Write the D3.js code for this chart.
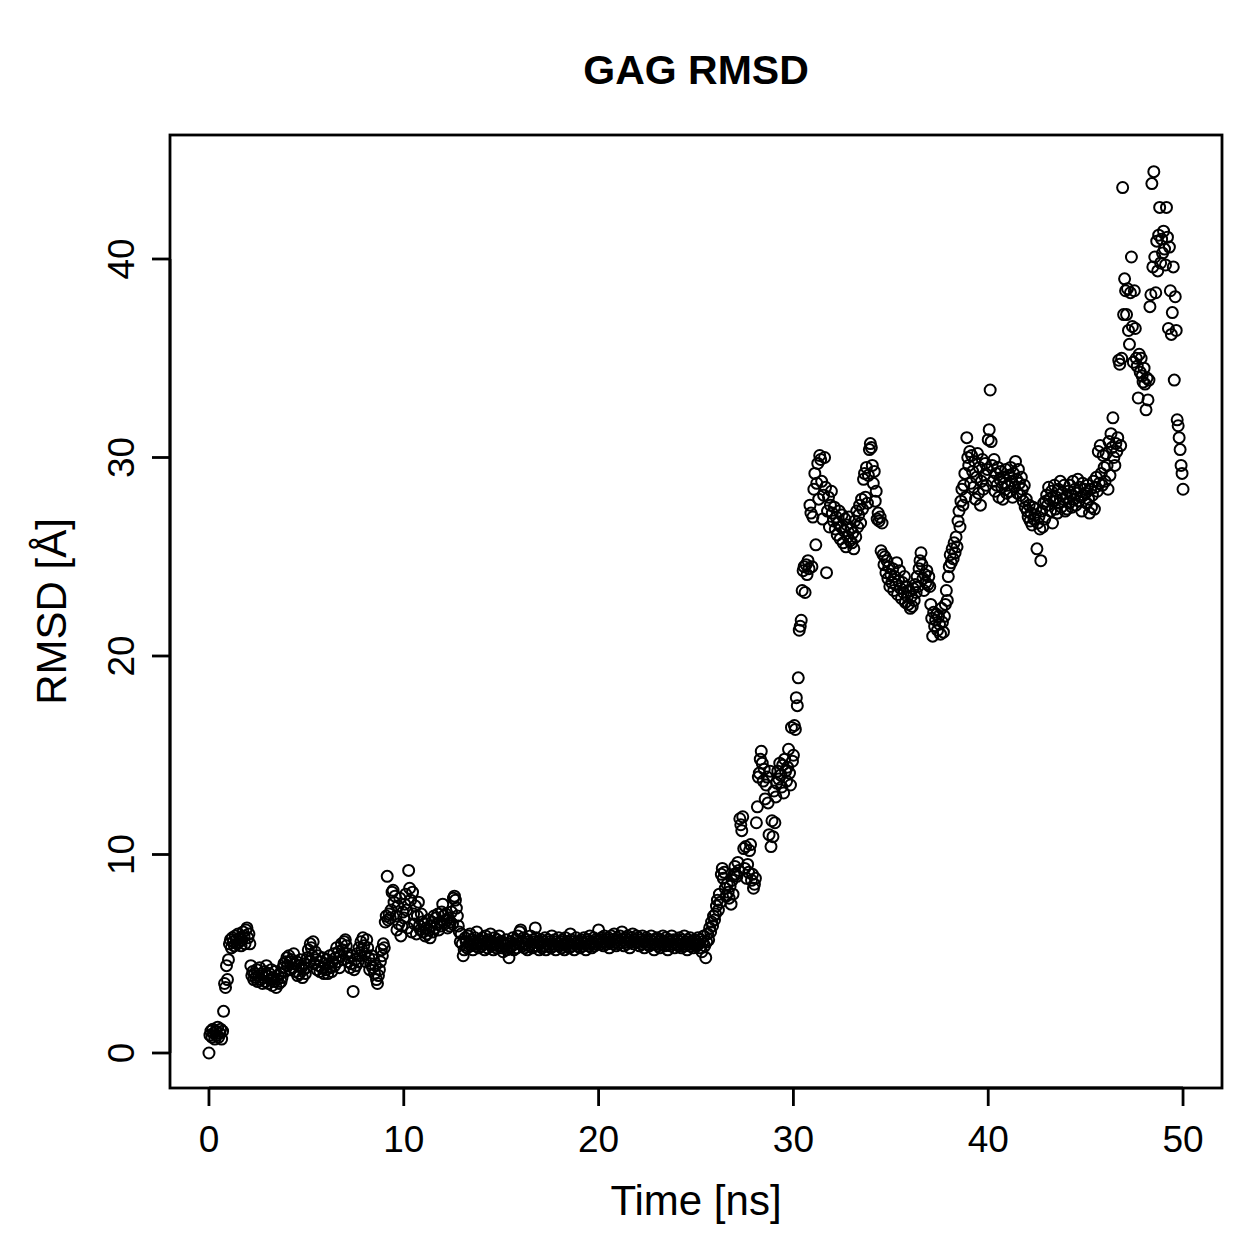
<!DOCTYPE html>
<html>
<head>
<meta charset="utf-8">
<script src="https://cdn.jsdelivr.net/npm/d3@7"></script>
<style>
  html, body { margin: 0; padding: 0; background: #fff; }
  svg { display: block; font-family: "Liberation Sans", Arial, Helvetica, sans-serif; }
  .axis-line, .tick-line, .frame { stroke: #000; stroke-width: 2.8; fill: none; }
  .pt { fill: none; stroke: #000; stroke-width: 2; }
</style>
</head>
<body>
<svg width="1259" height="1259"></svg>
<script>
// RMSD samples every 0.05 ns, one array per ns of simulation time
const STEP = 0.05;
const rmsd00 = [0.0,0.9,1.1,0.8,1.2,1.0,0.7,1.1,0.9,1.3,0.8,1.0,1.2,0.7,1.1,2.1,3.5,3.3,4.4,3.7];
const rmsd01 = [4.7,5.5,5.7,5.3,5.8,5.6,5.4,5.9,5.7,5.5,6.0,5.6,5.8,5.4,5.7,6.1,5.9,5.5,6.2,6.3];
const rmsd02 = [5.8,6.0,5.5,4.4,3.9,4.1,3.7,4.0,3.8,4.2,3.6,3.9,4.3,3.7,4.0,3.5,3.8,4.1,3.6,4.4];
const rmsd03 = [3.9,3.5,4.0,3.7,4.2,3.4,3.8,3.6,4.1,3.3,3.7,3.9,3.5,4.0,3.6,3.8,4.3,4.5,4.1,4.6];
const rmsd04 = [4.8,4.4,4.9,4.6,4.2,4.7,4.3,5.0,4.5,4.1,4.6,3.9,4.4,4.0,4.7,4.3,3.8,4.2,4.5,4.0];
const rmsd05 = [4.3,4.8,5.2,4.6,5.5,5.3,4.9,5.6,4.5,5.1,4.7,4.2,4.9,4.4,4.1,4.6,4.3,4.8,4.0,4.5];
const rmsd06 = [4.2,4.7,4.0,4.5,4.9,4.3,4.1,4.6,5.0,4.4,4.8,5.3,4.6,5.1,4.3,4.9,5.5,5.2,4.7,5.6];
const rmsd07 = [5.7,5.4,5.0,4.6,4.8,4.3,4.5,4.9,3.1,4.2,4.7,4.4,5.0,4.6,5.3,4.9,5.6,5.2,5.8,5.4];
const rmsd08 = [5.0,4.6,5.7,5.3,4.8,4.2,4.5,4.9,4.3,4.7,4.0,4.4,3.7,3.5,3.9,4.2,4.6,5.2,4.9,5.5];
const rmsd09 = [5.3,6.6,6.9,8.9,6.7,7.0,6.8,7.2,8.1,8.2,7.6,7.9,6.9,6.2,7.4,6.5,7.8,5.9,6.4,7.1];
const rmsd10 = [6.8,7.5,8.0,7.2,6.3,9.2,8.3,7.7,6.1,8.1,7.0,6.5,7.4,6.0,6.9,7.6,6.4,6.2,7.0,6.6];
const rmsd11 = [6.1,6.5,5.9,6.3,6.0,6.7,6.2,5.8,6.4,6.6,6.1,6.9,6.3,6.8,6.5,7.0,6.2,6.6,6.4,7.1];
const rmsd12 = [7.5,6.9,6.5,7.0,6.7,6.3,6.8,6.4,6.6,7.1,6.5,7.8,7.9,7.7,7.3,6.9,6.4,6.1,5.6,6.0];
const rmsd13 = [5.5,4.9,5.2,5.8,5.6,5.3,5.9,5.5,6.0,5.4,5.7,5.2,5.6,5.8,5.4,6.1,5.5,5.3,5.7,5.6];
const rmsd14 = [5.4,5.8,5.5,5.2,5.9,5.6,5.3,5.7,5.5,6.0,5.4,5.6,5.2,5.8,5.5,5.3,5.7,5.4,5.9,5.6];
const rmsd15 = [5.3,5.6,5.1,5.5,5.4,5.7,5.2,5.5,4.8,5.3,5.6,5.4,5.8,5.2,5.5,5.7,5.3,5.9,5.5,6.1];
const rmsd16 = [6.2,5.6,5.4,5.8,5.3,5.5,5.7,5.2,5.6,5.4,5.9,5.5,5.3,5.7,5.6,6.3,5.8,5.4,5.6,5.2];
const rmsd17 = [5.5,5.7,5.3,5.6,5.4,5.8,5.2,5.5,5.7,5.4,5.6,5.3,5.9,5.5,5.4,5.7,5.2,5.6,5.5,5.8];
const rmsd18 = [5.4,5.6,5.3,5.7,5.5,5.2,5.8,5.4,5.6,5.5,5.3,6.0,5.7,5.4,5.6,5.2,5.5,5.8,5.4,5.6];
const rmsd19 = [5.5,5.3,5.7,5.6,5.4,5.8,5.5,5.2,5.6,5.7,5.4,5.9,5.5,5.3,5.6,5.8,5.4,5.7,5.5,5.6];
const rmsd20 = [6.2,5.7,5.5,5.8,5.6,5.4,5.9,5.6,5.7,5.5,5.8,5.3,5.6,5.9,5.7,5.5,6.0,5.6,5.4,5.8];
const rmsd21 = [5.7,5.5,5.9,5.6,6.1,5.7,5.4,5.8,5.6,5.5,5.9,5.7,5.3,5.6,5.8,6.0,5.5,5.7,5.6,5.9];
const rmsd22 = [5.6,5.8,5.4,5.7,5.5,5.9,5.6,5.3,5.7,5.8,5.5,5.6,5.4,5.7,5.9,5.5,5.6,5.2,5.7,5.5];
const rmsd23 = [5.8,5.4,5.6,5.3,5.7,5.5,5.9,5.6,5.4,5.8,5.5,5.2,5.7,5.6,5.4,5.9,5.5,5.7,5.3,5.6];
const rmsd24 = [5.5,5.7,5.4,5.8,5.6,5.3,5.7,5.5,5.9,5.4,5.6,5.2,5.7,5.5,5.8,5.4,5.6,5.3,5.5,5.7];
const rmsd25 = [5.6,5.4,5.8,5.5,5.3,5.7,5.1,5.6,5.9,5.4,4.8,5.6,6.0,5.7,6.3,6.1,6.6,6.4,6.9,6.7];
const rmsd26 = [7.0,7.4,7.7,7.2,8.0,7.6,9.0,9.3,8.8,9.1,8.3,7.9,8.5,8.1,7.8,8.4,7.5,8.7,8.0,9.0];
const rmsd27 = [9.4,9.0,8.9,9.6,9.2,11.8,11.5,11.2,11.9,10.3,9.3,10.4,8.8,9.5,9.1,10.2,10.5,8.7,9.0,8.3];
const rmsd28 = [8.5,8.8,11.6,12.4,13.9,14.1,14.8,15.2,14.6,13.7,14.3,12.8,13.5,13.9,12.6,11.0,14.2,10.4,11.7,10.9];
const rmsd29 = [13.2,11.6,12.9,13.6,14.2,13.8,14.6,14.0,13.4,14.5,13.1,14.8,14.2,13.7,14.4,15.3,14.1,13.5,16.4,14.7];
const rmsd30 = [15.0,16.5,16.3,17.9,17.5,18.9,21.3,21.5,21.8,23.3,24.3,24.5,23.2,24.6,24.1,24.8,24.4,27.6,27.2,24.5];
const rmsd31 = [27.0,28.4,29.2,25.6,28.7,29.7,27.9,30.1,29.9,28.8,26.9,28.1,30.0,28.5,24.2,27.3,28.0,26.5,27.6,28.3];
const rmsd32 = [27.2,26.8,27.5,26.4,27.0,26.1,26.7,27.3,25.9,26.5,27.1,25.7,26.3,26.9,25.5,26.6,26.0,27.0,25.8,26.4];
const rmsd33 = [25.7,26.2,25.4,26.8,26.0,27.3,26.5,27.1,27.6,26.7,27.9,27.4,28.9,29.2,28.0,29.5,27.7,29.1,30.4,30.7];
const rmsd34 = [30.5,29.6,28.7,29.3,27.8,28.3,26.9,27.2,26.8,27.0,25.3,26.7,25.1,24.6,25.0,24.2,24.8,23.9,24.5,23.5];
const rmsd35 = [24.1,23.7,24.4,23.3,24.0,23.6,24.7,23.1,23.8,24.3,23.4,22.9,23.7,23.2,24.0,22.7,23.5,23.0,22.6,23.3];
const rmsd36 = [22.4,23.0,22.5,23.4,22.8,23.6,23.2,24.0,23.5,24.4,24.8,25.2,24.6,23.9,23.3,24.1,23.7,24.3,23.6,24.0];
const rmsd37 = [23.5,22.6,21.9,21.0,22.2,21.5,21.8,22.1,21.3,22.0,21.6,21.1,22.4,21.7,21.2,22.0,22.6,23.3,22.8,24.0];
const rmsd38 = [24.5,25.1,24.7,25.4,24.9,25.7,25.2,26.0,25.5,26.8,27.3,26.5,27.8,28.4,27.6,28.6,29.2,28.0,31.0,30.0];
const rmsd39 = [29.6,30.3,28.7,30.1,29.3,28.5,29.8,27.9,29.0,30.2,28.2,29.5,27.6,28.8,29.9,28.4,29.1,29.7,28.6,29.4];
const rmsd40 = [30.9,31.4,33.4,30.8,29.6,28.8,29.9,28.3,29.2,28.6,29.5,28.0,28.9,29.3,28.5,27.9,29.0,28.7,29.4,28.2];
const rmsd41 = [28.6,29.1,28.3,29.5,28.8,28.0,29.2,28.5,29.8,28.9,28.2,29.4,28.7,28.1,29.0,28.4,27.8,28.6,27.5,27.9];
const rmsd42 = [27.3,27.0,27.6,26.8,27.2,26.6,27.5,26.9,27.1,27.4,25.4,26.7,27.0,26.4,24.8,27.3,26.5,27.7,26.9,27.8];
const rmsd43 = [28.1,27.6,28.5,27.9,27.3,28.3,26.7,27.8,28.6,27.4,28.0,27.2,28.4,27.7,28.8,27.5,28.2,27.9,28.6,27.3];
const rmsd44 = [28.0,27.4,28.3,27.7,28.6,28.1,27.5,28.8,27.9,28.4,27.6,28.2,28.9,27.8,28.5,28.0,27.3,28.7,28.1,28.4];
const rmsd45 = [28.2,27.7,28.6,27.9,27.2,28.4,27.5,28.1,28.8,27.4,28.5,29.0,28.3,30.3,28.7,30.6,29.2,28.6,30.1,29.5];
const rmsd46 = [28.8,30.2,29.6,28.4,30.8,29.1,31.2,30.5,32.0,30.0,29.6,30.7,30.3,31.0,34.9,34.7,30.6,35.0,43.6,37.2];
const rmsd47 = [39.0,38.4,37.2,38.5,36.4,35.7,38.3,40.1,36.6,34.8,38.4,36.5,35.0,34.6,33.0,35.2,34.3,35.0,34.1,33.8];
const rmsd48 = [34.5,33.7,32.4,34.0,32.9,33.9,37.6,38.2,43.8,39.6,44.4,40.1,38.3,40.9,39.4,41.2,42.6,39.8,41.0,40.3];
const rmsd49 = [41.4,40.5,39.7,42.6,41.1,36.5,40.6,38.4,36.2,37.3,39.6,33.9,38.1,36.4,31.9,31.6,31.0,30.4,29.6,29.2,28.4];

const blocks = [rmsd00,rmsd01,rmsd02,rmsd03,rmsd04,rmsd05,rmsd06,rmsd07,rmsd08,rmsd09,
  rmsd10,rmsd11,rmsd12,rmsd13,rmsd14,rmsd15,rmsd16,rmsd17,rmsd18,rmsd19,
  rmsd20,rmsd21,rmsd22,rmsd23,rmsd24,rmsd25,rmsd26,rmsd27,rmsd28,rmsd29,
  rmsd30,rmsd31,rmsd32,rmsd33,rmsd34,rmsd35,rmsd36,rmsd37,rmsd38,rmsd39,
  rmsd40,rmsd41,rmsd42,rmsd43,rmsd44,rmsd45,rmsd46,rmsd47,rmsd48,rmsd49];

const xTicks = [0, 10, 20, 30, 40, 50];
const yTicks = [0, 10, 20, 30, 40];
const title = "GAG RMSD";
const xLabel = "Time [ns]";
const yLabel = "RMSD [Å]";

const points = [];
blocks.forEach((vals, ns) => {
  vals.forEach((v, j) => points.push({t: ns + j * STEP, v: v}));
});

const svg = d3.select("svg");
svg.append("rect").attr("width", 1259).attr("height", 1259).attr("fill", "#fff");

// plot region (R style 4% padding around data)
const plotL = 170, plotR = 1222, plotT = 135, plotB = 1088;
const x = d3.scaleLinear().domain([-2, 52]).range([plotL, plotR]);
const y = d3.scaleLinear().domain([0, 40]).range([1053, 259]);

svg.append("g").selectAll("circle").data(points).enter().append("circle")
  .attr("class", "pt")
  .attr("cx", d => x(d.t))
  .attr("cy", d => y(d.v))
  .attr("r", 5.5);

svg.append("rect").attr("class", "frame")
  .attr("x", plotL).attr("y", plotT)
  .attr("width", plotR - plotL).attr("height", plotB - plotT);

// x axis
const tickLen = 18;
const gx = svg.append("g");
gx.append("line").attr("class", "axis-line")
  .attr("x1", x(xTicks[0])).attr("x2", x(xTicks[xTicks.length - 1]))
  .attr("y1", plotB).attr("y2", plotB);
gx.selectAll("line.tick-line").data(xTicks).enter().append("line")
  .attr("class", "tick-line")
  .attr("x1", d => x(d)).attr("x2", d => x(d))
  .attr("y1", plotB).attr("y2", plotB + tickLen);
gx.selectAll("text").data(xTicks).enter().append("text")
  .attr("x", d => x(d)).attr("y", 1152)
  .attr("text-anchor", "middle").attr("font-size", 37)
  .text(d => d);

// y axis
const gy = svg.append("g");
gy.append("line").attr("class", "axis-line")
  .attr("x1", plotL).attr("x2", plotL)
  .attr("y1", y(yTicks[0])).attr("y2", y(yTicks[yTicks.length - 1]));
gy.selectAll("line.tick-line").data(yTicks).enter().append("line")
  .attr("class", "tick-line")
  .attr("x1", plotL - tickLen).attr("x2", plotL)
  .attr("y1", d => y(d)).attr("y2", d => y(d));
gy.selectAll("text").data(yTicks).enter().append("text")
  .attr("transform", d => "translate(134," + y(d) + ") rotate(-90)")
  .attr("text-anchor", "middle").attr("font-size", 37)
  .text(d => d);

// labels
svg.append("text").attr("x", (plotL + plotR) / 2).attr("y", 84)
  .attr("text-anchor", "middle").attr("font-size", 41).attr("font-weight", "bold")
  .text(title);
svg.append("text").attr("x", (plotL + plotR) / 2).attr("y", 1215)
  .attr("text-anchor", "middle").attr("font-size", 42)
  .text(xLabel);
svg.append("text")
  .attr("transform", "translate(66," + (plotT + plotB) / 2 + ") rotate(-90)")
  .attr("text-anchor", "middle").attr("font-size", 42)
  .text(yLabel);
</script>
</body>
</html>
